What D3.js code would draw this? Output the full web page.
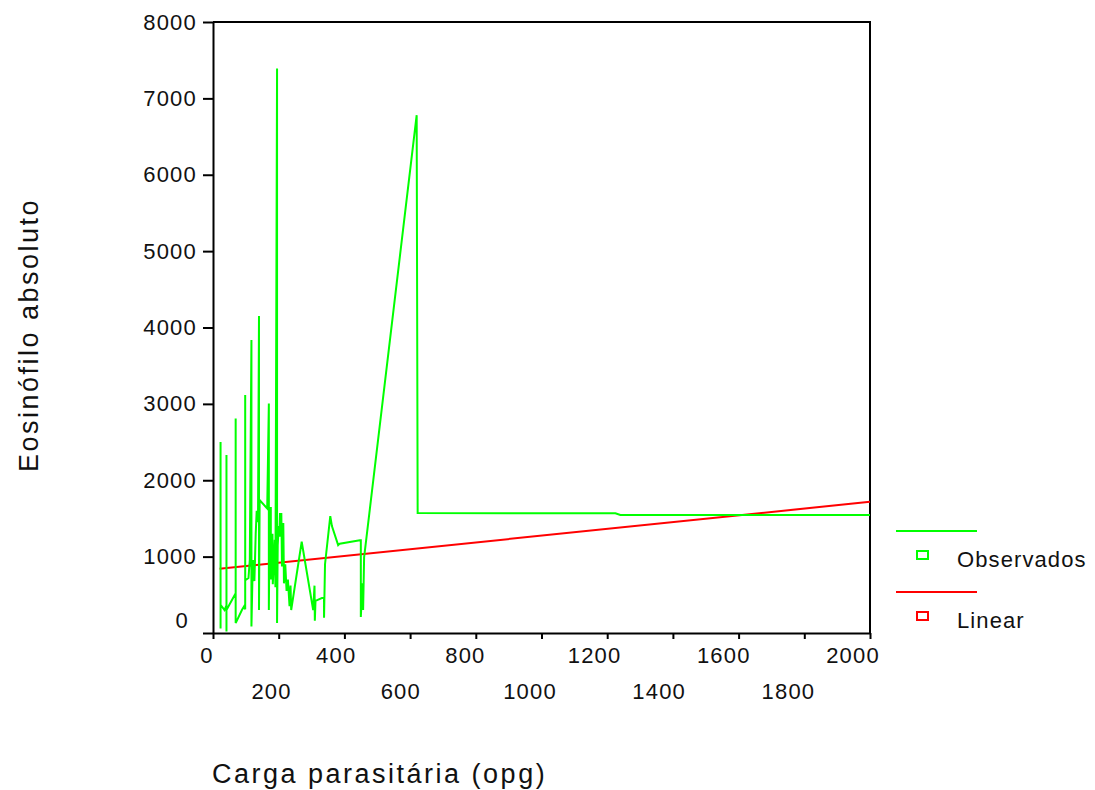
<!DOCTYPE html>
<html>
<head>
<meta charset="utf-8">
<script src="https://cdnjs.cloudflare.com/ajax/libs/d3/7.8.5/d3.min.js"></script>
<style>
  body { margin: 0; background: #fff; }
  #chart { width: 1095px; height: 790px; }
  text { font-family: "Liberation Sans", Arial, sans-serif; fill: #111; }
  .tickLabel { font-size: 22px; letter-spacing: 1.2px; }
  .axisTitle { font-size: 27px; letter-spacing: 2.5px; }
  .legendText { font-size: 22px; letter-spacing: 1.1px; }
  .axis path, .axis line { stroke: #000; stroke-width: 2px; }
  .obsLine, .fitLine { fill: none; stroke-width: 2px; }
</style>
</head>
<body>
<div id="chart"></div>
<script>
// Observados: carga parasitaria (opg) vs eosinofilo absoluto, in plotted order
const obsX = [23, 23, 23, 35, 41, 41, 41, 41,
  69, 69, 69, 88, 95, 98, 98, 98,
  108, 112, 117, 117, 120, 122, 126, 130, 133, 137, 140, 140, 142, 165, 170, 170,
  172, 176, 176, 181, 182, 188, 190, 195, 195, 197, 200, 202, 204, 206, 208, 210,
  214, 216, 220, 224, 228, 233, 236, 238, 270, 305, 309, 310, 312, 338, 338, 341,
  357, 362, 381, 386, 447, 450, 450, 455, 457, 460, 620, 623, 1225, 1240, 2000]
const obsY = [60, 2500, 370, 300, 360, 2330, 20, 300,
  520, 2810, 130, 300, 350, 310, 3115, 690,
  720, 955, 3835, 85, 700, 955, 680, 1300, 1600, 1450, 4150, 300, 1740, 1630, 3005, 300,
  1300, 1650, 700, 1300, 640, 1220, 600, 7390, 130, 1150, 1400, 1260, 1570, 1260, 1570, 870,
  1440, 650, 900, 550, 700, 350, 620, 300, 1195, 300, 620, 160, 420, 470, 200, 900,
  1530, 1400, 1150, 1170, 1215, 1215, 210, 650, 300, 990, 6780, 1570, 1567, 1545, 1545]

// Linear fit (end points)
const fitX = [20, 2000]
const fitY = [840, 1718]

const xTicks = [0, 200, 400, 600, 800, 1000, 1200, 1400, 1600, 1800, 2000]
const yTicks = [0, 1000, 2000, 3000, 4000, 5000, 6000, 7000, 8000]
const seriesNames = ["Observados", "Linear"]

const xTitle = "Carga parasitária (opg)"
const yTitle = "Eosinófilo absoluto"

const chart = (function() {
    const that = this

    this.div = null
    this.left = 213
    this.right = 870
    this.top = 22
    this.bottom = 633
    this.colors = ["#00ff00", "#ff0000"]
    this.xScale = null
    this.yScale = null
    this.xLabelScale = null

    this.init = (idDiv) => {
        this.div = d3.select(idDiv)
        this.xScale = d3.scaleLinear().domain([0, 2000]).range([this.left, this.right])
        this.yScale = d3.scaleLinear().domain([0, 8000]).range([this.bottom, this.top])
        // tick labels sit a little left of their ticks, drifting further right to left
        this.xLabelScale = d3.scaleLinear().domain([0, 2000]).range([207, 853])
        return that
    }

    this.render = () => {
        this.div.selectAll("svg").remove()

        const svg = this.div.append("svg")
            .attr("width", 1095)
            .attr("height", 790)

        // frame: top and right borders
        svg.append("path")
            .attr("d", "M" + this.left + "," + this.top + "H" + this.right + "V" + this.bottom)
            .style("fill", "none")
            .style("stroke", "#000")
            .style("stroke-width", "2px")

        // X axis: ticks only, labels drawn below in two rows
        svg.append("g")
            .attr("class", "x axis")
            .attr("transform", "translate(0," + this.bottom + ")")
            .call(d3.axisBottom(this.xScale).tickValues(xTicks).tickSize(6).tickSizeOuter(0).tickFormat(""))

        svg.append("g")
            .selectAll("text.xLabel")
            .data(xTicks)
            .join("text")
            .attr("class", "tickLabel xLabel")
            .attr("x", d => this.xLabelScale(d))
            .attr("y", (d, i) => i % 2 == 0 ? 663 : 699)
            .style("text-anchor", "middle")
            .text(d => d)

        // Y axis
        const yAxis = svg.append("g")
            .attr("class", "y axis")
            .attr("transform", "translate(" + this.left + ",0)")
            .call(d3.axisLeft(this.yScale).tickValues(yTicks).tickSize(10).tickSizeOuter(0)
                .tickPadding(6).tickFormat(d3.format("d")))
        yAxis.attr("font-size", null).attr("font-family", null)
        yAxis.selectAll("text")
            .attr("class", "tickLabel")
            .attr("fill", null)
        yAxis.selectAll(".tick").filter(d => d == 0).select("text")
            .attr("dx", "-8")
            .attr("dy", "-6")

        // lines
        const line = d3.line()
            .x(d => that.xScale(d[0]))
            .y(d => that.yScale(d[1]))

        const obs = obsX.map((x, i) => [x, obsY[i]])
        const fit = fitX.map((x, i) => [x, fitY[i]])

        svg.append("path")
            .datum(fit)
            .attr("class", "fitLine")
            .attr("d", line)
            .style("stroke", this.colors[1])

        svg.append("path")
            .datum(obs)
            .attr("class", "obsLine")
            .attr("d", line)
            .style("stroke", this.colors[0])

        // axis titles
        svg.append("text")
            .attr("class", "axisTitle")
            .attr("x", 212)
            .attr("y", 783)
            .text(xTitle)

        svg.append("text")
            .attr("class", "axisTitle")
            .attr("transform", "translate(38,335) rotate(-90)")
            .style("text-anchor", "middle")
            .text(yTitle)

        // legend
        const legend = svg.append("g")
            .attr("transform", "translate(896,531)")
            .selectAll("g")
            .data(seriesNames)
            .join("g")
            .attr("transform", (d, i) => "translate(0," + (i * 61) + ")")

        legend.append("line")
            .attr("x1", 0).attr("x2", 81)
            .attr("y1", 0).attr("y2", 0)
            .style("stroke", (d, i) => this.colors[i])
            .style("stroke-width", "2px")

        legend.append("rect")
            .attr("x", 21).attr("y", 20)
            .attr("width", 11).attr("height", 8)
            .style("fill", "none")
            .style("stroke", (d, i) => this.colors[i])
            .style("stroke-width", "2px")

        legend.append("text")
            .attr("class", "legendText")
            .attr("x", 61)
            .attr("y", 36)
            .text(d => d)
    }

    return this
}).call({})

chart.init("#chart").render()
</script>
</body>
</html>
